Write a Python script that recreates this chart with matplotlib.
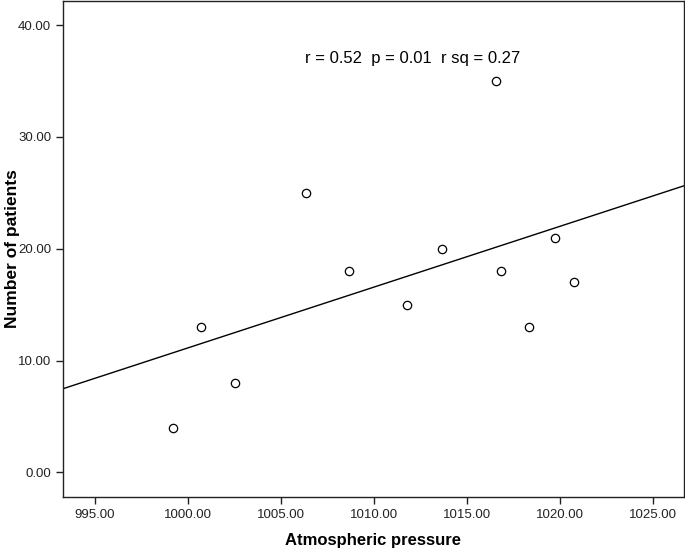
#!/usr/bin/env python
"""Scatter of patient counts against atmospheric pressure with a linear fit."""

import numpy as np
import matplotlib
matplotlib.use("Agg")
import matplotlib.pyplot as plt

plt.rcParams['font.family'] = ['Liberation Sans', 'DejaVu Sans']

# data
pressure = [999.19, 1000.70, 1002.53, 1006.34, 1008.66, 1011.77,
            1013.66, 1016.56, 1016.83, 1018.33, 1019.73, 1020.75]
patients = [4, 13, 8, 25, 18, 15, 20, 35, 18, 13, 21, 17]
x_ticks = [995, 1000, 1005, 1010, 1015, 1020, 1025]
y_ticks = [0, 10, 20, 30, 40]
stats_text = "r = 0.52  p = 0.01  r sq = 0.27"

W, H = 685, 549
fig = plt.figure(figsize=(W / 100, H / 100), dpi=100)
ax = fig.add_axes([63 / W, 1 - 497 / H, (684 - 63) / W, (497 - 1) / H])

ax.scatter(pressure, patients, s=36, facecolors='white', edgecolors='black',
           linewidths=0.9, zorder=3)

# least squares line across the whole axis
slope, intercept = np.polyfit(pressure, patients, 1)
xlim = (993.28, 1026.67)
xs = np.array(xlim)
ax.plot(xs, intercept + slope * xs, color='black', linewidth=1.0)

ax.set_xlim(*xlim)
ax.set_ylim(-2.2, 42.15)
ax.set_xticks(x_ticks)
ax.set_xticklabels([f"{v:.2f}" for v in x_ticks])
ax.set_yticks(y_ticks)
ax.set_yticklabels([f"{v:.2f}" for v in y_ticks])
ax.tick_params(direction='out', length=5, width=1, labelsize=9.5, colors='#222222',
               top=False, right=False)
for sp in ax.spines.values():
    sp.set_linewidth(1.0)
    sp.set_color('#222222')

ax.text(1012.1, 36.97, stats_text, ha='center', va='center', fontsize=12)

# axis titles placed in figure pixels so nothing is clipped
fig.text(373 / W, 1 - 541 / H, "Atmospheric pressure", ha='center', va='center',
         fontsize=12, fontweight='bold')
fig.text(13 / W, 1 - 249 / H, "Number of patients", ha='center', va='center',
         rotation=90, fontsize=12.5, fontweight='bold')

fig.savefig("out.png", dpi=100)
